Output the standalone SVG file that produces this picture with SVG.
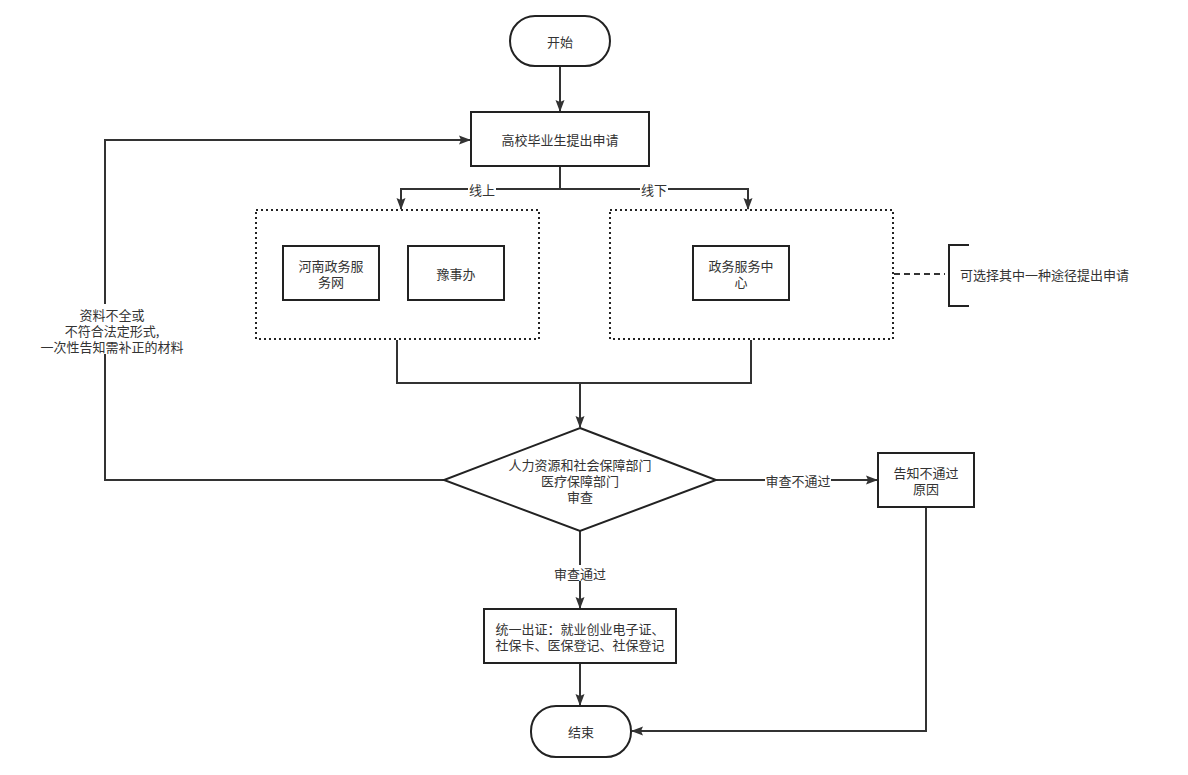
<svg xmlns="http://www.w3.org/2000/svg" width="1188" height="775" viewBox="0 0 1188 775">
<defs>
<style>
.n{fill:#fff;stroke:#222;stroke-width:2}
.d{fill:none;stroke:#222;stroke-width:2;stroke-dasharray:2 3}
.c{fill:none;stroke:#333;stroke-width:2}
.t{font-family:"Noto Sans CJK SC","Liberation Sans",sans-serif;font-size:13px;fill:#333;text-anchor:middle;dominant-baseline:central}
.bg{fill:#fff}
</style>
<marker id="a" viewBox="0 0 12 10" refX="11" refY="5" markerWidth="12" markerHeight="10" markerUnits="userSpaceOnUse" orient="auto"><path d="M0,0.5 L12,5 L0,9.5 L2,5 Z" fill="#333"/></marker>
</defs>
<rect width="1188" height="775" fill="#fff"/>
<g id="connectors">
<path class="c" d="M560,66 V111" marker-end="url(#a)"/>
<path class="c" d="M560,166 V189 H401 V209" marker-end="url(#a)"/>
<path class="c" d="M560,189 H748 V209" marker-end="url(#a)"/>
<path class="c" d="M397,340 V383 H751 V340"/>
<path class="c" d="M580,383 V427" marker-end="url(#a)"/>
<path class="c" d="M444,480 H105 V140 H470" marker-end="url(#a)"/>
<path class="c" d="M716,480 H877" marker-end="url(#a)"/>
<path class="c" d="M580,531 V608" marker-end="url(#a)"/>
<path class="c" d="M580,663 V705" marker-end="url(#a)"/>
<path class="c" d="M926,507 V731 H632" marker-end="url(#a)"/>
<path fill="none" stroke="#333" stroke-width="2" stroke-dasharray="6 4" d="M894,274 H945"/>
<rect class="bg" x="468" y="181" width="28" height="16"/>
<text class="t" x="482" y="189">线上</text>
<rect class="bg" x="640" y="181" width="28" height="16"/>
<text class="t" x="654" y="189">线下</text>
<rect class="bg" x="42" y="304" width="140" height="50"/>
<text class="t" x="112" y="314"><tspan x="112">资料不全或</tspan><tspan x="112" dy="16">不符合法定形式,</tspan><tspan x="112" dy="16">一次性告知需补正的材料</tspan></text>
<rect class="bg" x="765" y="472" width="66" height="16"/>
<text class="t" x="798" y="480">审查不通过</text>
<rect class="bg" x="554" y="565" width="52" height="16"/>
<text class="t" x="580" y="573">审查通过</text>
</g>
<g id="start"><rect class="n" x="510" y="16" width="100" height="50" rx="25"/><text class="t" x="560" y="41">开始</text></g>
<g id="apply"><rect class="n" x="471" y="112" width="178" height="54"/><text class="t" x="560" y="139">高校毕业生提出申请</text></g>
<g id="online"><rect class="d" x="256" y="210" width="283" height="129"/></g>
<g id="henan"><rect class="n" x="283" y="246" width="96" height="54"/><text class="t" x="331" y="265"><tspan x="331">河南政务服</tspan><tspan x="331" dy="16">务网</tspan></text></g>
<g id="yushiban"><rect class="n" x="408" y="246" width="96" height="54"/><text class="t" x="456" y="273">豫事办</text></g>
<g id="offline"><rect class="d" x="610" y="210" width="283" height="129"/></g>
<g id="center"><rect class="n" x="693" y="246" width="96" height="54"/><text class="t" x="741" y="265"><tspan x="741">政务服务中</tspan><tspan x="741" dy="16">心</tspan></text></g>
<g id="note"><path fill="none" stroke="#222" stroke-width="2" d="M969,245 H949 V306 H969"/><text class="t" x="960" y="274" style="text-anchor:start">可选择其中一种途径提出申请</text></g>
<g id="review"><polygon class="n" points="580,428 716,480 580,531 444,480"/><text class="t" x="580" y="464"><tspan x="580">人力资源和社会保障部门</tspan><tspan x="580" dy="16">医疗保障部门</tspan><tspan x="580" dy="16">审查</tspan></text></g>
<g id="reject"><rect class="n" x="878" y="453" width="96" height="54"/><text class="t" x="926" y="472"><tspan x="926">告知不通过</tspan><tspan x="926" dy="16">原因</tspan></text></g>
<g id="issue"><rect class="n" x="484" y="609" width="192" height="54"/><text class="t" x="580" y="628"><tspan x="580">统一出证：就业创业电子证、</tspan><tspan x="580" dy="16">社保卡、医保登记、社保登记</tspan></text></g>
<g id="end"><rect class="n" x="531" y="706" width="100" height="51" rx="25"/><text class="t" x="581" y="731">结束</text></g>
</svg>
